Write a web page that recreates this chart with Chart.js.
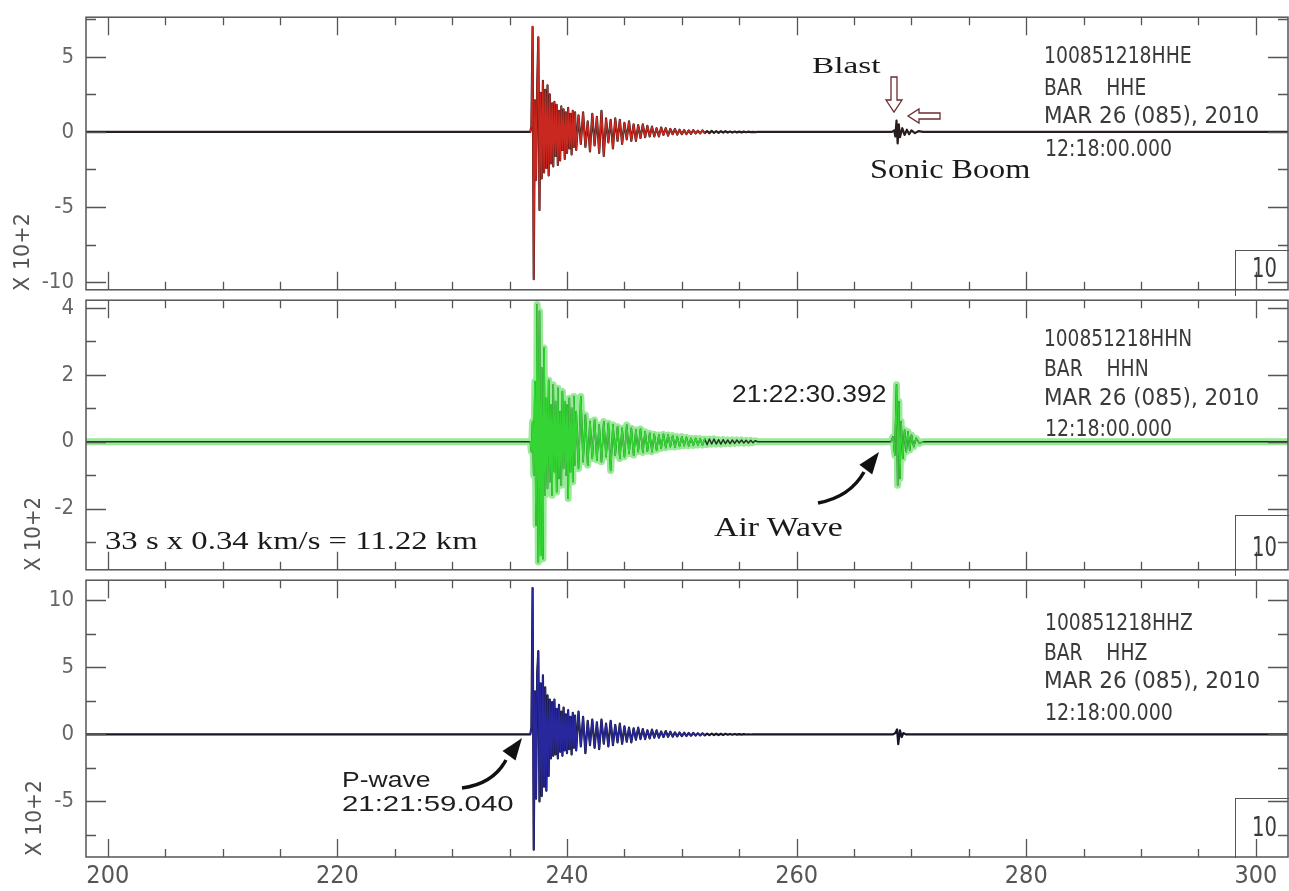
<!DOCTYPE html>
<html>
<head>
<meta charset="utf-8">
<script src="https://cdn.jsdelivr.net/npm/chart.js@4/dist/chart.umd.min.js"></script>
<style>
  body { margin: 0; background: #fff; }
  #wrap { position: relative; width: 1289px; height: 891px; overflow: hidden; background: #fff; }
  canvas { position: absolute; left: 0; }
  .lbl { position: absolute; white-space: pre; line-height: 1; transform-origin: left center; }
  .serif { font-family: 'Liberation Serif', 'Times New Roman', serif; color: #1a1a1a; }
  .sans { font-family: 'Liberation Sans', Arial, sans-serif; color: #1e1e1e; }
  .narrow { font-family: 'Liberation Sans Narrow', 'DejaVu Sans Condensed', 'Liberation Sans', sans-serif; color: #3a3a3a; font-size: 23px; }
  .unit { font-family: 'Liberation Sans Narrow', 'DejaVu Sans Condensed', 'Liberation Sans', sans-serif; color: #555; font-size: 21px; transform-origin: center center; }
  .box { position: absolute; border-left: 1.5px solid #555; border-top: 1.5px solid #555; }
  svg { position: absolute; left: 0; top: 0; }
</style>
</head>
<body>
<div id="wrap">
  <canvas id="hhe" width="1289" height="307" style="top:0px"></canvas>
  <canvas id="hhn" width="1289" height="304" style="top:283px"></canvas>
  <canvas id="hhz" width="1289" height="328" style="top:563px"></canvas>

  <svg width="1289" height="891">
    <path d="M891,77 L897,77 L897,100 L902,100 L894,112 L886,100 L891,100 Z" fill="#fff" stroke="#6b2b2b" stroke-width="1.3"/>
    <path d="M940,113 L919,113 L919,109 L908,116 L919,123 L919,119 L940,119 Z" fill="#fff" stroke="#6b2b2b" stroke-width="1.3"/>
    <path d="M818,503 Q850,497 864,472" fill="none" stroke="#111" stroke-width="3.5"/>
    <path d="M879,452 L872.2,474.4 L859.4,464.8 Z" fill="#111"/>
    <path d="M462,788 Q493,784 506,760" fill="none" stroke="#111" stroke-width="3.5"/>
    <path d="M522,738 L515.5,760.5 L502.5,751.1 Z" fill="#111"/>
  </svg>

  <div class="box" style="left:1235px;top:250px;width:53px;height:45px"></div>
  <div class="box" style="left:1235px;top:515px;width:53px;height:60px"></div>
  <div class="box" style="left:1235px;top:798px;width:53px;height:59px"></div>
  <div class="lbl narrow" style="left:1252px;top:254px;font-size:27px" data-w="25">10</div>
  <div class="lbl narrow" style="left:1252px;top:533px;font-size:27px" data-w="25">10</div>
  <div class="lbl narrow" style="left:1252px;top:813px;font-size:27px" data-w="25">10</div>

  <div class="lbl narrow" style="left:1044px;top:43.5px" data-w="148">100851218HHE</div>
  <div class="lbl narrow" style="left:1044px;top:75.5px" data-w="102">BAR    HHE</div>
  <div class="lbl narrow" style="left:1044px;top:103.5px" data-w="215">MAR 26 (085), 2010</div>
  <div class="lbl narrow" style="left:1045px;top:136.5px" data-w="127">12:18:00.000</div>

  <div class="lbl narrow" style="left:1044px;top:326.5px" data-w="148">100851218HHN</div>
  <div class="lbl narrow" style="left:1044px;top:356.5px" data-w="105">BAR    HHN</div>
  <div class="lbl narrow" style="left:1044px;top:385.5px" data-w="215">MAR 26 (085), 2010</div>
  <div class="lbl narrow" style="left:1045px;top:416.5px" data-w="127">12:18:00.000</div>

  <div class="lbl narrow" style="left:1045px;top:610.5px" data-w="148">100851218HHZ</div>
  <div class="lbl narrow" style="left:1044px;top:640.5px" data-w="103">BAR    HHZ</div>
  <div class="lbl narrow" style="left:1044px;top:668.5px" data-w="216">MAR 26 (085), 2010</div>
  <div class="lbl narrow" style="left:1045px;top:700.5px" data-w="128">12:18:00.000</div>

  <div class="lbl unit" style="left:22px;top:252px" data-w="78" data-rot="1">X 10+2</div>
  <div class="lbl unit" style="left:33px;top:534px" data-w="74" data-rot="1">X 10+2</div>
  <div class="lbl unit" style="left:34px;top:818px" data-w="76" data-rot="1">X 10+2</div>

  <div class="lbl serif" style="left:812px;top:53px;font-size:24px" data-w="68">Blast</div>
  <div class="lbl serif" style="left:870px;top:156px;font-size:27px" data-w="160">Sonic Boom</div>
  <div class="lbl sans" style="left:732px;top:382.5px;font-size:23px" data-w="154">21:22:30.392</div>
  <div class="lbl serif" style="left:714px;top:513px;font-size:28px" data-w="129">Air Wave</div>
  <div class="lbl serif" style="left:105px;top:527.5px;font-size:25px" data-w="373">33 s x 0.34 km/s = 11.22 km</div>
  <div class="lbl sans" style="left:342px;top:769px;font-size:22px" data-w="88">P-wave</div>
  <div class="lbl sans" style="left:342px;top:792.5px;font-size:22px" data-w="171">21:21:59.040</div>
</div>

<script>
// time axis (s)
const X_MIN = 198.1;
const X_MAX = 302.8;
const X_TICK_STEP = 5;
const X_LABEL_EVERY = 20;

// samples: dense for the first 4 s after onset, coarser for the coda
const ONSET_START = 236.8;
const ONSET_STEP = 0.1;
const CODA_START = 240.8;
const CODA_STEP = 0.2;
const COLOR_END = 252;

// HHE (east) - amplitudes x 10^2
const hheOnset = [
    0, 0.4, 7.0, -9.8, 2.1, -3.2, 3.0, 6.3, -5.2, 2.6, -3.1, 3.4, -2.7, 2.8, -2.4, 3.1, -2.9, 2.5, -2.1, 1.9,
    -2.3, 2.0, -1.6, 1.8, -2.2, 1.4, -1.9, 1.7, -1.2, 1.5, -1.8, 1.3, -1.4, 1.6, -1.1, 1.2, -1.5, 1.4, -1.0, 1.3
];
const hheCoda = [
    -1.2, 1.1, -0.8, 1.3, -1.0, 0.7, -1.3, 1.2, -0.9, 1.0, -1.4, 1.4, -1.6, 0.9, -0.7, 0.8, -1.1, 0.9, -0.6, 0.8,
    -0.8, 0.6, -0.5, 0.7, -0.6, 0.5, -0.6, 0.45, -0.4, 0.5, -0.35, 0.4, -0.3, 0.35, -0.3, 0.25, -0.3, 0.3, -0.2, 0.25,
    -0.25, 0.2, -0.15, 0.2, -0.18, 0.15, -0.15, 0.12, -0.15, 0.1, -0.12, 0.12, -0.1, 0.08, -0.1, 0.1, -0.08, 0.06, -0.08, 0.07,
    -0.06, 0.05, -0.06, 0.05, -0.04, 0.05, -0.04, 0.03, -0.04, 0.03, -0.03, 0.02, -0.03, 0.02, -0.02, 0.02, -0.01, 0.01, -0.01, 0
];
const hheBlipT = [268.3, 268.5, 268.6, 268.7, 268.8, 268.9, 269.0, 269.2, 269.4, 269.6, 269.8, 270.0, 270.3, 270.6, 271.0];
const hheBlipV = [0, 0.1, -0.3, 0.75, -0.77, 0.5, -0.35, 0.25, -0.2, 0.15, -0.15, 0.1, -0.08, 0.05, 0];

// HHN (north)
const hhnOnset = [
    0, -0.3, 0.6, -1.0, 1.8, -2.5, 4.1, -3.6, 3.9, -3.4, 2.2, -3.5, 2.8, -1.6, 1.3, -1.4, 1.84, -1.2, 1.1, -1.6,
    1.7, -0.9, 1.2, -1.5, 1.6, -1.1, 0.9, -1.3, 1.5, -0.8, 1.2, -1.0, 1.1, -1.7, 1.3, -0.9, 1.0, -1.2, 1.35, -0.7
];
const hhnCoda = [
    0.9, -0.8, 1.35, -0.6, 0.8, -0.7, 0.6, -0.5, 0.65, -0.55, 0.5, -0.6, 0.6, -0.45, 0.55, -0.86, 0.5, -0.4, 0.45, -0.5,
    0.4, -0.45, 0.5, -0.35, 0.4, -0.4, 0.35, -0.3, 0.38, -0.32, 0.3, -0.28, 0.25, -0.3, 0.22, -0.25, 0.2, -0.2, 0.22, -0.18,
    0.2, -0.15, 0.18, -0.16, 0.15, -0.14, 0.15, -0.12, 0.13, -0.12, 0.1, -0.11, 0.1, -0.1, 0.09, -0.1, 0.08, -0.09, 0.08, -0.07,
    0.08, -0.07, 0.06, -0.07, 0.06, -0.06, 0.05, -0.06, 0.05, -0.05, 0.05, -0.04, 0.05, -0.04, 0.04, -0.04, 0.04, -0.03, 0.03, 0
];
const hhnBlipT = [268.2, 268.4, 268.55, 268.7, 268.8, 268.9, 269.0, 269.1, 269.25, 269.4, 269.55, 269.7, 269.85, 270.0, 270.2, 270.4, 270.7, 271.0];
const hhnBlipV = [0, 0.15, -0.4, 1.7, -1.3, 1.2, -1.1, 0.6, -0.5, 0.35, -0.3, 0.3, -0.25, 0.2, -0.15, 0.1, -0.05, 0];

// HHZ (vertical)
const hhzOnset = [
    0, 0.5, 10.9, -8.6, 3.2, -4.8, 4.5, 6.2, -5.0, 3.8, -4.6, 4.4, -3.9, 3.5, -4.2, 2.9, -3.1, 2.6, -1.8, 2.4,
    -1.6, 2.6, -1.5, 1.9, -1.8, 2.2, -1.3, 1.7, -1.6, 2.0, -1.2, 1.5, -1.4, 1.8, -1.1, 1.3, -1.5, 1.6, -1.0, 1.4
];
const hhzCoda = [
    -1.2, 1.7, -0.9, 1.3, -1.4, 1.0, -0.8, 1.1, -1.0, 0.9, -1.1, 1.1, -0.7, 0.8, -0.9, 1.0, -0.8, 0.7, -0.6, 0.8,
    -0.7, 0.6, -0.55, 0.5, -0.6, 0.45, -0.4, 0.5, -0.35, 0.4, -0.35, 0.3, -0.3, 0.35, -0.25, 0.3, -0.25, 0.22, -0.2, 0.25,
    -0.18, 0.2, -0.17, 0.15, -0.15, 0.14, -0.13, 0.12, -0.12, 0.1, -0.1, 0.1, -0.09, 0.08, -0.08, 0.08, -0.07, 0.06, -0.06, 0.06,
    -0.05, 0.05, -0.05, 0.04, -0.04, 0.04, -0.03, 0.03, -0.03, 0.03, -0.02, 0.02, -0.02, 0.02, -0.01, 0.01, -0.01, 0.01, 0, 0
];
const hhzBlipT = [268.4, 268.6, 268.75, 268.85, 269.0, 269.15, 269.3, 269.5];
const hhzBlipV = [0, 0.1, 0.37, -0.73, 0.3, -0.2, 0.1, 0];

const NARROW = "'Liberation Sans Narrow', 'DejaVu Sans Condensed', 'Liberation Sans', sans-serif";

function sampled(start, step, values) {
    return values.map((v, i) => ({ x: start + i * step, y: v }));
}

function eventPoints(onset, coda) {
    return [...sampled(ONSET_START, ONSET_STEP, onset), ...sampled(CODA_START, CODA_STEP, coda)];
}

function blipPoints(times, values) {
    return times.map((t, i) => ({ x: t, y: values[i] }));
}

function fullTrace(event, blip) {
    return [{ x: X_MIN, y: 0 }, ...event, ...blip, { x: X_MAX, y: 0 }];
}

const frameTicks = {
    id: 'frameTicks',
    afterDraw(chart) {
        const { ctx, chartArea: a, scales: { x, y } } = chart;
        ctx.save();
        ctx.strokeStyle = '#555';
        ctx.lineWidth = 1.5;
        ctx.strokeRect(a.left, a.top, a.right - a.left, a.bottom - a.top);
        ctx.lineWidth = 1.3;
        ctx.beginPath();
        y.ticks.forEach(t => {
            const py = Math.round(y.getPixelForValue(t.value)) + 0.5;
            const len = t.label !== '' ? 20 : 10;
            ctx.moveTo(a.left, py);
            ctx.lineTo(a.left + len, py);
            ctx.moveTo(a.right, py);
            ctx.lineTo(a.right - len, py);
        });
        x.ticks.forEach(t => {
            const px = Math.round(x.getPixelForValue(t.value)) + 0.5;
            const len = Math.round(t.value) % X_LABEL_EVERY === 0 ? 18 : 8;
            ctx.moveTo(px, a.top);
            ctx.lineTo(px, a.top + len);
            ctx.moveTo(px, a.bottom);
            ctx.lineTo(px, a.bottom - len);
        });
        ctx.stroke();
        ctx.restore();
    }
};

function makePanel(id, datasets, yMin, yMax, yStep, yLabelEvery, pad, showX) {
    new Chart(document.getElementById(id), {
        type: 'line',
        data: { datasets },
        options: {
            responsive: false,
            animation: false,
            events: [],
            parsing: false,
            layout: { padding: { top: pad.top, bottom: pad.bottom, left: 0, right: 1 } },
            elements: {
                point: { radius: 0 },
                line: { tension: 0, borderJoinStyle: 'round', borderCapStyle: 'round', fill: false }
            },
            plugins: { legend: { display: false }, tooltip: { enabled: false } },
            scales: {
                x: {
                    type: 'linear',
                    min: X_MIN,
                    max: X_MAX,
                    grid: { display: false },
                    border: { display: false },
                    ticks: {
                        display: showX,
                        stepSize: X_TICK_STEP,
                        includeBounds: false,
                        maxTicksLimit: 60,
                        autoSkip: false,
                        maxRotation: 0,
                        padding: -4,
                        color: '#555',
                        font: { family: NARROW, size: 25 },
                        callback: v => Math.round(v) % X_LABEL_EVERY === 0 ? String(Math.round(v)) : ''
                    },
                    afterFit: s => { s.height = showX ? 34 : 0; }
                },
                y: {
                    min: yMin,
                    max: yMax,
                    grid: { display: false },
                    border: { display: false },
                    ticks: {
                        stepSize: yStep,
                        includeBounds: false,
                        maxTicksLimit: 30,
                        autoSkip: false,
                        padding: 4,
                        color: '#666',
                        font: { family: NARROW, size: 22 },
                        callback: v => Math.abs(v % yLabelEvery) < 1e-6 ? String(v) : ''
                    },
                    afterFit: s => { s.width = 86; }
                }
            }
        },
        plugins: [frameTicks]
    });
}

// HHE panel
const hheEv = eventPoints(hheOnset, hheCoda);
const hheBl = blipPoints(hheBlipT, hheBlipV);
makePanel('hhe', [
    { data: hheEv.filter(p => p.x <= COLOR_END), borderColor: '#c8281f', borderWidth: 1.5, order: 0 },
    { data: fullTrace(hheEv, hheBl), borderColor: '#2b1d1d', borderWidth: 2.2, order: 1 }
], -10.51, 7.64, 2.5, 5, { top: 10, bottom: 12 }, false);

// HHN panel
const hhnEv = eventPoints(hhnOnset, hhnCoda);
const hhnBl = blipPoints(hhnBlipT, hhnBlipV);
const hhnFull = fullTrace(hhnEv, hhnBl);
makePanel('hhn', [
    { data: hhnEv.filter(p => p.x <= COLOR_END), borderColor: '#33d433', borderWidth: 1.6, order: 0 },
    { data: hhnBl, borderColor: '#33d433', borderWidth: 1.4, order: 0 },
    { data: hhnFull, borderColor: '#1f3a1f', borderWidth: 1.5, order: 1 },
    { data: hhnFull, borderColor: 'rgba(70,215,70,0.55)', borderWidth: 7, order: 2 }
], -3.83, 4.23, 1, 2, { top: 12, bottom: 12 }, false);

// HHZ panel
const hhzEv = eventPoints(hhzOnset, hhzCoda);
const hhzBl = blipPoints(hhzBlipT, hhzBlipV);
makePanel('hhz', [
    { data: hhzEv.filter(p => p.x <= COLOR_END), borderColor: '#28289c', borderWidth: 1.5, order: 0 },
    { data: fullTrace(hhzEv, hhzBl), borderColor: '#151525', borderWidth: 2.2, order: 1 }
], -9.14, 11.49, 2.5, 5, { top: 12, bottom: 0 }, true);

// squeeze/stretch annotation text to the measured widths
document.querySelectorAll('.lbl[data-w]').forEach(el => {
    const k = Number(el.dataset.w) / el.offsetWidth;
    if (el.dataset.rot) {
        el.style.transform = `translate(-50%, -50%) rotate(-90deg) scaleX(${k})`;
    } else {
        el.style.transform = `scaleX(${k})`;
    }
});
</script>
</body>
</html>
